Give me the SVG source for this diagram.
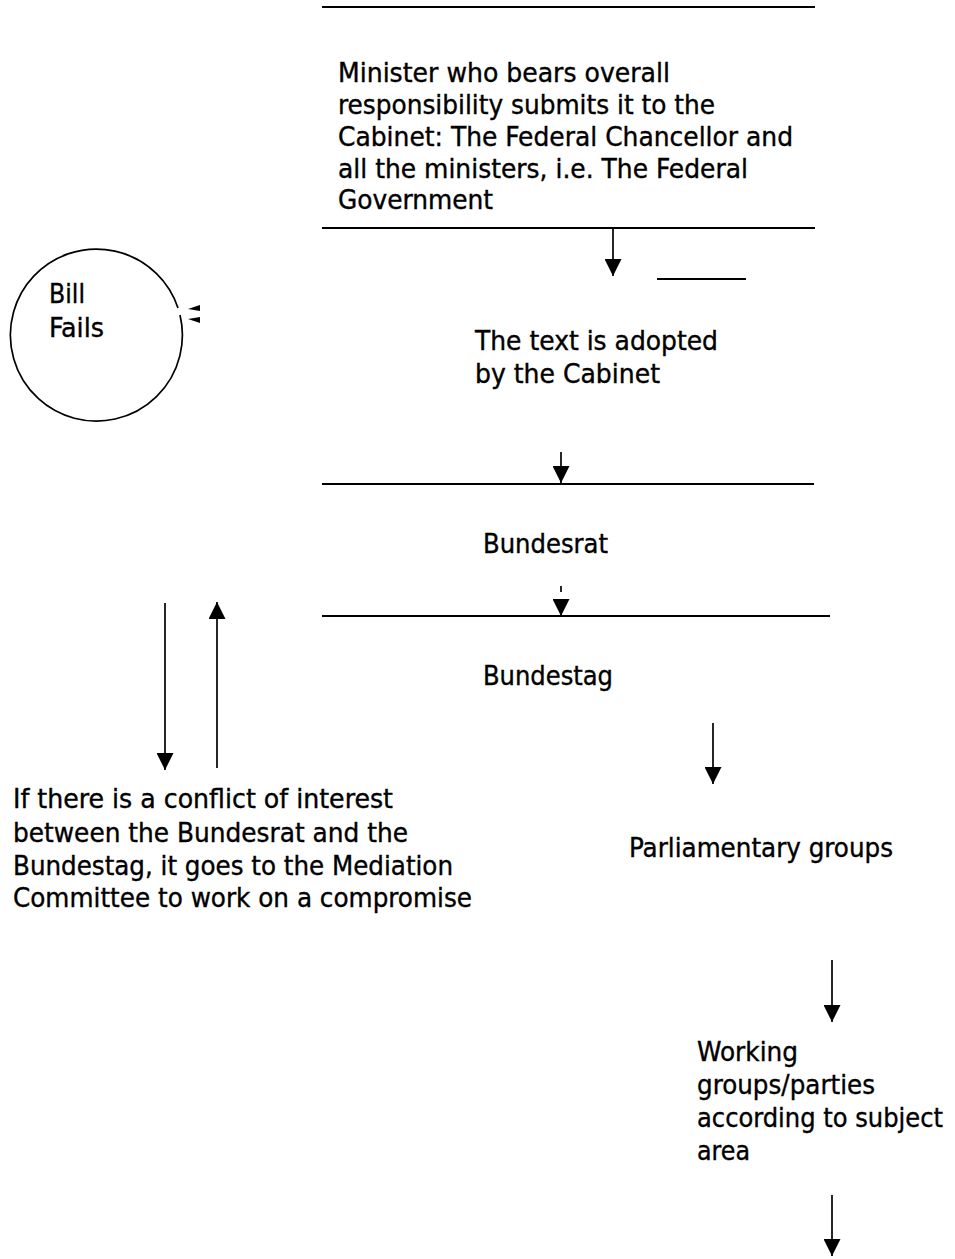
<svg xmlns="http://www.w3.org/2000/svg" width="955" height="1259" viewBox="0 0 955 1259">
  <defs>
    <style>
      text { font-family: "DejaVu Sans Condensed", "DejaVu Sans", sans-serif; font-size: 26.5px; fill: #000; stroke: #000; stroke-width: 0.35; }
      .rule { stroke: #000; stroke-width: 2; fill: none; }
      .shaft { stroke: #000; stroke-width: 1.7; fill: none; }
      .head { fill: #000; }
    </style>
    <marker id="tip" markerUnits="userSpaceOnUse" markerWidth="17" markerHeight="17" viewBox="0 0 16 16" refX="16" refY="8" orient="auto">
      <path d="M0,0 L16,8 L0,16 z" class="head"/>
    </marker>
  </defs>
  <rect width="955" height="1259" fill="#fff"/>

  <!-- horizontal rules separating the stages -->
  <g id="rules">
    <line class="rule" x1="322" y1="7" x2="815" y2="7"/>
    <line class="rule" x1="322" y1="228" x2="815" y2="228"/>
    <line class="rule" x1="657" y1="279" x2="746" y2="279"/>
    <line class="rule" x1="322" y1="484" x2="814" y2="484"/>
    <line class="rule" x1="322" y1="616" x2="830" y2="616"/>
  </g>

  <g id="minister">
    <text x="338" y="82" textLength="332" lengthAdjust="spacingAndGlyphs">Minister who bears overall</text>
    <text x="338" y="114" textLength="377" lengthAdjust="spacingAndGlyphs">responsibility submits it to the</text>
    <text x="338" y="146" textLength="455" lengthAdjust="spacingAndGlyphs">Cabinet: The Federal Chancellor and</text>
    <text x="338" y="178" textLength="410" lengthAdjust="spacingAndGlyphs">all the ministers, i.e. The Federal</text>
    <text x="338" y="209" textLength="155" lengthAdjust="spacingAndGlyphs">Government</text>
  </g>

  <g id="bill-fails">
    <path class="shaft" d="M180,315 A86,86 0 1 1 178,308"/>
    <path class="head" d="M200,305 L188,309 L200,311 z"/>
    <path class="head" d="M200,317 L188,319 L200,323 z"/>
    <text x="49" y="303" textLength="36" lengthAdjust="spacingAndGlyphs">Bill</text>
    <text x="49" y="337" textLength="55" lengthAdjust="spacingAndGlyphs">Fails</text>
  </g>

  <g id="cabinet">
    <text x="475" y="350" textLength="243" lengthAdjust="spacingAndGlyphs">The text is adopted</text>
    <text x="475" y="383" textLength="185" lengthAdjust="spacingAndGlyphs">by the Cabinet</text>
  </g>

  <g id="bundesrat">
    <text x="483" y="553" textLength="125" lengthAdjust="spacingAndGlyphs">Bundesrat</text>
  </g>

  <g id="bundestag">
    <text x="483" y="685" textLength="130" lengthAdjust="spacingAndGlyphs">Bundestag</text>
  </g>

  <g id="mediation">
    <text x="13" y="808" textLength="380" lengthAdjust="spacingAndGlyphs">If there is a conflict of interest</text>
    <text x="13" y="842" textLength="395" lengthAdjust="spacingAndGlyphs">between the Bundesrat and the</text>
    <text x="13" y="875" textLength="440" lengthAdjust="spacingAndGlyphs">Bundestag, it goes to the Mediation</text>
    <text x="13" y="907" textLength="459" lengthAdjust="spacingAndGlyphs">Committee to work on a compromise</text>
  </g>

  <g id="parliamentary-groups">
    <text x="629" y="857" textLength="264" lengthAdjust="spacingAndGlyphs">Parliamentary groups</text>
  </g>

  <g id="working-groups">
    <text x="697" y="1061" textLength="101" lengthAdjust="spacingAndGlyphs">Working</text>
    <text x="697" y="1094" textLength="178" lengthAdjust="spacingAndGlyphs">groups/parties</text>
    <text x="697" y="1127" textLength="246" lengthAdjust="spacingAndGlyphs">according to subject</text>
    <text x="697" y="1160" textLength="53" lengthAdjust="spacingAndGlyphs">area</text>
  </g>

  <!-- flow arrows -->
  <g id="connectors">
    <line class="shaft" x1="613" y1="229" x2="613" y2="276" marker-end="url(#tip)"/>
    <line class="shaft" x1="561" y1="452" x2="561" y2="483" marker-end="url(#tip)"/>
    <line class="shaft" x1="561" y1="586" x2="561" y2="592"/>
    <line class="shaft" x1="561" y1="600" x2="561" y2="616" marker-end="url(#tip)"/>
    <line class="shaft" x1="165" y1="603" x2="165" y2="770" marker-end="url(#tip)"/>
    <line class="shaft" x1="217" y1="768" x2="217" y2="602" marker-end="url(#tip)"/>
    <line class="shaft" x1="713" y1="723" x2="713" y2="784" marker-end="url(#tip)"/>
    <line class="shaft" x1="832" y1="960" x2="832" y2="1022" marker-end="url(#tip)"/>
    <line class="shaft" x1="832" y1="1195" x2="832" y2="1256" marker-end="url(#tip)"/>
  </g>
</svg>
